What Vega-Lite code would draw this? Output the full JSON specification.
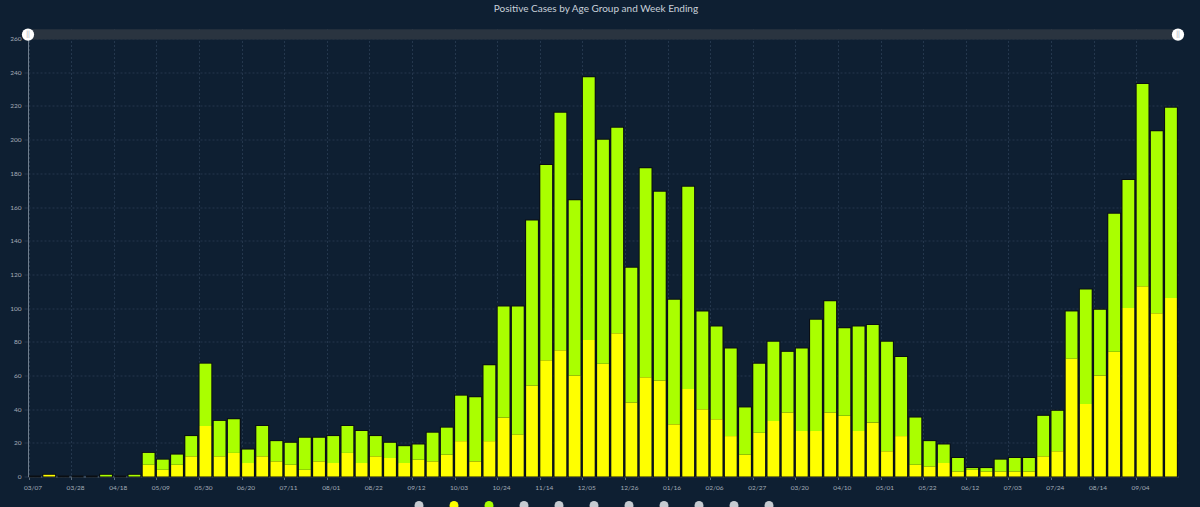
{
  "$schema": "https://vega.github.io/schema/vega-lite/v6.json",
  "autosize": "none",
  "width": 1150,
  "height": 448,
  "padding": {"left": 28, "top": 28.5, "right": 22, "bottom": 30.5},
  "background": "#0e1f32",
  "title": {
    "text": "Positive Cases by Age Group and Week Ending",
    "color": "#c9d1da",
    "fontSize": 10,
    "font": "Lato",
    "fontWeight": "normal",
    "offset": 14,
    "dx": -7
  },
  "config": {
    "view": {"stroke": null},
    "font": "Lato",
    "axis": {"labelOverlap": false},
    "axisY": {
      "grid": true,
      "gridColor": "#24374d",
      "gridDash": [2, 2],
      "domainColor": "#6f7d8c",
      "tickColor": "#24374d",
      "tickSize": 4,
      "labelColor": "#a3adb8",
      "labelFontSize": 6.5,
      "labelPadding": 3,
      "title": null,
      "zindex": 0
    }
  },
  "resolve": {"scale": {"x": "independent"}},
  "layer": [
    {
      "data": {
        "values": [
          {"week": "2020-03-07", "10-19": 0, "20-29": 0},
          {"week": "2020-03-14", "10-19": 1, "20-29": 0},
          {"week": "2020-03-21", "10-19": 0, "20-29": 0},
          {"week": "2020-03-28", "10-19": 0, "20-29": 0},
          {"week": "2020-04-04", "10-19": 0, "20-29": 0},
          {"week": "2020-04-11", "10-19": 0, "20-29": 1},
          {"week": "2020-04-18", "10-19": 0, "20-29": 0},
          {"week": "2020-04-25", "10-19": 0, "20-29": 1},
          {"week": "2020-05-02", "10-19": 7, "20-29": 7},
          {"week": "2020-05-09", "10-19": 4, "20-29": 6},
          {"week": "2020-05-16", "10-19": 7, "20-29": 6},
          {"week": "2020-05-23", "10-19": 12, "20-29": 12},
          {"week": "2020-05-30", "10-19": 30, "20-29": 37},
          {"week": "2020-06-06", "10-19": 12, "20-29": 21},
          {"week": "2020-06-13", "10-19": 14, "20-29": 20},
          {"week": "2020-06-20", "10-19": 8, "20-29": 8},
          {"week": "2020-06-27", "10-19": 12, "20-29": 18},
          {"week": "2020-07-04", "10-19": 9, "20-29": 12},
          {"week": "2020-07-11", "10-19": 7, "20-29": 13},
          {"week": "2020-07-18", "10-19": 4, "20-29": 19},
          {"week": "2020-07-25", "10-19": 9, "20-29": 14},
          {"week": "2020-08-01", "10-19": 8, "20-29": 16},
          {"week": "2020-08-08", "10-19": 14, "20-29": 16},
          {"week": "2020-08-15", "10-19": 8, "20-29": 19},
          {"week": "2020-08-22", "10-19": 12, "20-29": 12},
          {"week": "2020-08-29", "10-19": 11, "20-29": 9},
          {"week": "2020-09-05", "10-19": 8, "20-29": 10},
          {"week": "2020-09-12", "10-19": 10, "20-29": 9},
          {"week": "2020-09-19", "10-19": 9, "20-29": 17},
          {"week": "2020-09-26", "10-19": 13, "20-29": 16},
          {"week": "2020-10-03", "10-19": 21, "20-29": 27},
          {"week": "2020-10-10", "10-19": 9, "20-29": 38},
          {"week": "2020-10-17", "10-19": 21, "20-29": 45},
          {"week": "2020-10-24", "10-19": 35, "20-29": 66},
          {"week": "2020-10-31", "10-19": 25, "20-29": 76},
          {"week": "2020-11-07", "10-19": 54, "20-29": 98},
          {"week": "2020-11-14", "10-19": 69, "20-29": 116},
          {"week": "2020-11-21", "10-19": 75, "20-29": 141},
          {"week": "2020-11-28", "10-19": 60, "20-29": 104},
          {"week": "2020-12-05", "10-19": 81, "20-29": 156},
          {"week": "2020-12-12", "10-19": 67, "20-29": 133},
          {"week": "2020-12-19", "10-19": 85, "20-29": 122},
          {"week": "2020-12-26", "10-19": 44, "20-29": 80},
          {"week": "2021-01-02", "10-19": 59, "20-29": 124},
          {"week": "2021-01-09", "10-19": 57, "20-29": 112},
          {"week": "2021-01-16", "10-19": 31, "20-29": 74},
          {"week": "2021-01-23", "10-19": 52, "20-29": 120},
          {"week": "2021-01-30", "10-19": 40, "20-29": 58},
          {"week": "2021-02-06", "10-19": 34, "20-29": 55},
          {"week": "2021-02-13", "10-19": 24, "20-29": 52},
          {"week": "2021-02-20", "10-19": 13, "20-29": 28},
          {"week": "2021-02-27", "10-19": 26, "20-29": 41},
          {"week": "2021-03-06", "10-19": 33, "20-29": 47},
          {"week": "2021-03-13", "10-19": 38, "20-29": 36},
          {"week": "2021-03-20", "10-19": 27, "20-29": 49},
          {"week": "2021-03-27", "10-19": 27, "20-29": 66},
          {"week": "2021-04-03", "10-19": 38, "20-29": 66},
          {"week": "2021-04-10", "10-19": 36, "20-29": 52},
          {"week": "2021-04-17", "10-19": 27, "20-29": 62},
          {"week": "2021-04-24", "10-19": 32, "20-29": 58},
          {"week": "2021-05-01", "10-19": 15, "20-29": 65},
          {"week": "2021-05-08", "10-19": 24, "20-29": 47},
          {"week": "2021-05-15", "10-19": 7, "20-29": 28},
          {"week": "2021-05-22", "10-19": 6, "20-29": 15},
          {"week": "2021-05-29", "10-19": 8, "20-29": 11},
          {"week": "2021-06-05", "10-19": 3, "20-29": 8},
          {"week": "2021-06-12", "10-19": 4, "20-29": 1},
          {"week": "2021-06-19", "10-19": 3, "20-29": 2},
          {"week": "2021-06-26", "10-19": 3, "20-29": 7},
          {"week": "2021-07-03", "10-19": 3, "20-29": 8},
          {"week": "2021-07-10", "10-19": 3, "20-29": 8},
          {"week": "2021-07-17", "10-19": 12, "20-29": 24},
          {"week": "2021-07-24", "10-19": 15, "20-29": 24},
          {"week": "2021-07-31", "10-19": 70, "20-29": 28},
          {"week": "2021-08-07", "10-19": 43, "20-29": 68},
          {"week": "2021-08-14", "10-19": 60, "20-29": 39},
          {"week": "2021-08-21", "10-19": 74, "20-29": 82},
          {"week": "2021-08-28", "10-19": 100, "20-29": 76},
          {"week": "2021-09-04", "10-19": 113, "20-29": 120},
          {"week": "2021-09-11", "10-19": 97, "20-29": 108},
          {"week": "2021-09-18", "10-19": 106, "20-29": 113}
        ]
      },
      "transform": [{"fold": ["10-19", "20-29"], "as": ["group", "cases"]}],
      "encoding": {
        "x": {
          "field": "week",
          "type": "ordinal",
          "scale": {"paddingInner": 0.17, "paddingOuter": 0.08},
          "axis": {
            "values": ["2020-03-07", "2020-03-28", "2020-04-18", "2020-05-09", "2020-05-30", "2020-06-20", "2020-07-11", "2020-08-01", "2020-08-22", "2020-09-12", "2020-10-03", "2020-10-24", "2020-11-14", "2020-12-05", "2020-12-26", "2021-01-16", "2021-02-06", "2021-02-27", "2021-03-20", "2021-04-10", "2021-05-01", "2021-05-22", "2021-06-12", "2021-07-03", "2021-07-24", "2021-08-14", "2021-09-04"],
            "labelExpr": "substring(datum.value, 5, 7) + '/' + substring(datum.value, 8, 10)",
            "labelAngle": 0,
            "bandPosition": 0,
            "labelOffset": -2,
            "grid": true,
            "gridColor": "#24374d",
            "gridDash": [2, 2],
            "domainColor": "#5b6a7a",
            "tickColor": "#5b6a7a",
            "tickSize": 3,
            "labelColor": "#a3adb8",
            "labelFontSize": 6.5,
            "labelPadding": 5,
            "title": null
          }
        }
      },
      "layer": [
        {
          "mark": {"type": "bar", "fill": "#0a0e12", "stroke": "#0a0e12", "strokeWidth": 2},
          "encoding": {
            "y": {
              "aggregate": "sum",
              "field": "cases",
              "type": "quantitative",
              "scale": {"domain": [0, 266], "nice": false},
              "axis": {"values": [0, 20, 40, 60, 80, 100, 120, 140, 160, 180, 200, 220, 240, 260]}
            }
          }
        },
        {
          "mark": {"type": "bar"},
          "encoding": {
            "y": {
              "field": "cases",
              "type": "quantitative",
              "stack": "zero",
              "axis": {"values": [0, 20, 40, 60, 80, 100, 120, 140, 160, 180, 200, 220, 240, 260]}
            },
            "order": {"field": "group", "sort": "ascending"},
            "color": {
              "field": "group",
              "type": "nominal",
              "scale": {
                "domain": ["0-9", "10-19", "20-29", "30-39", "40-49", "50-59", "60-69", "70-79", "80-89", "90-99", "100+"],
                "range": ["#c6cbd1", "#ffff00", "#aaff00", "#c6cbd1", "#c6cbd1", "#c6cbd1", "#c6cbd1", "#c6cbd1", "#c6cbd1", "#c6cbd1", "#c6cbd1"]
              },
              "legend": {
                "orient": "none",
                "legendX": 386,
                "legendY": 472,
                "direction": "horizontal",
                "columns": 11,
                "title": null,
                "symbolType": "circle",
                "symbolSize": 80,
                "symbolStrokeWidth": 0,
                "symbolOpacity": 1,
                "labelExpr": "''",
                "labelOffset": 0,
                "columnPadding": 25,
                "padding": 0
              }
            }
          }
        }
      ]
    },
    {
      "data": {"values": [{"from": 0, "to": 1}]},
      "layer": [
        {
          "mark": {"type": "rect", "fill": "#2a3440"},
          "encoding": {
            "x": {"field": "from", "type": "quantitative", "scale": {"domain": [0, 1], "nice": false, "zero": false}, "axis": null},
            "x2": {"field": "to"},
            "y": {"datum": 259.5, "type": "quantitative", "axis": {"values": [0, 20, 40, 60, 80, 100, 120, 140, 160, 180, 200, 220, 240, 260]}},
            "y2": {"datum": 265.5}
          }
        },
        {
          "transform": [{"fold": ["from", "to"], "as": ["end", "pos"]}],
          "mark": {"type": "point", "filled": true, "fill": "#ffffff", "opacity": 1, "size": 150},
          "encoding": {
            "x": {"field": "pos", "type": "quantitative"},
            "y": {"datum": 262.4, "type": "quantitative", "axis": {"values": [0, 20, 40, 60, 80, 100, 120, 140, 160, 180, 200, 220, 240, 260]}}
          }
        },
        {
          "transform": [{"fold": ["from", "to"], "as": ["end", "pos"]}],
          "mark": {"type": "text", "text": "||", "fontSize": 7, "color": "#9aa3ad", "baseline": "middle"},
          "encoding": {
            "x": {"field": "pos", "type": "quantitative"},
            "y": {"datum": 262.4, "type": "quantitative", "axis": {"values": [0, 20, 40, 60, 80, 100, 120, 140, 160, 180, 200, 220, 240, 260]}}
          }
        }
      ]
    }
  ]
}
